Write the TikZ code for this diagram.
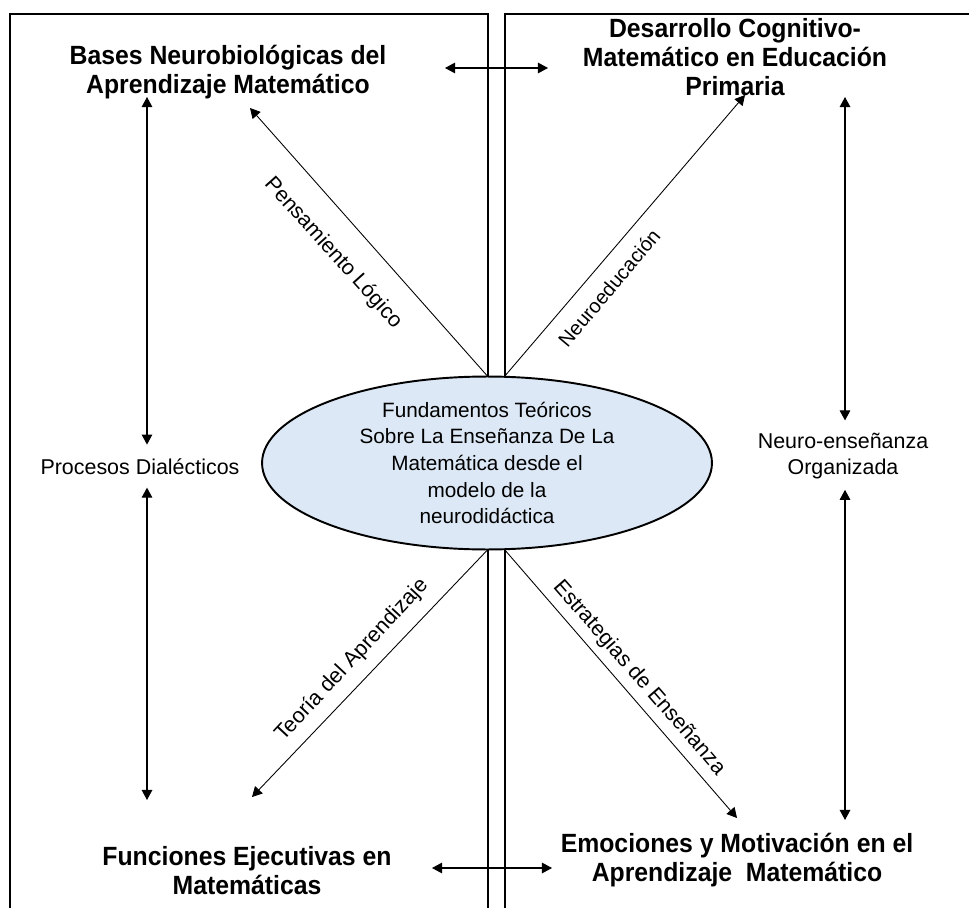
\documentclass[tikz,border=0pt]{standalone}
\usepackage{fontspec}
\setmainfont{Liberation Sans}
\newfontfamily\headfont[FakeStretch=0.94]{Liberation Sans Bold}
\usetikzlibrary{positioning,shapes.geometric,arrows.meta,calc}
\definecolor{ellfill}{RGB}{220,232,245}

\begin{document}
\begin{tikzpicture}[
    x=0.02cm, y=-0.02cm,
    title/.style={font=\headfont\fontsize{15}{16.5}\selectfont, align=center, inner sep=0pt},
    plain/.style={font=\fontsize{12.2}{14.8}\selectfont, align=center, inner sep=0pt},
    frame/.style={line width=1.3pt},
    tip/.style={-{Triangle[length=5.7pt,width=6pt]}},
    arrow/.style={tip, line width=0.5pt},
    twoway/.style={{Triangle[length=5.7pt,width=6pt]}-{Triangle[length=5.7pt,width=6pt]}, line width=0.6pt},
    label/.style={plain, inner sep=0pt}
]
    \useasboundingbox (0,0) rectangle (969,908);

    % the two frames
    \draw[frame] (10,908) -- (10,14) -- (488,14) -- (488,908);
    \draw[frame] (505,908) -- (505,14) -- (969,14);

    \node[ellipse, draw, fill=ellfill, line width=1.1pt, inner sep=0pt,
          minimum width=9cm, minimum height=3.26cm,
          font=\fontsize{11.8}{15.2}\selectfont, align=center] (fund) at (487,463)
        {Fundamentos Teóricos\\Sobre La Enseñanza De La\\Matemática desde el\\modelo de la\\neurodidáctica};

    \node[title] (bases) at (228,72) {Bases Neurobiológicas del\\Aprendizaje Matemático};
    \node[title] (desarrollo) at (735,57) {Desarrollo Cognitivo-\\Matemático en Educación\\Primaria};
    \node[title] (funciones) at (247,871) {Funciones Ejecutivas en\\Matemáticas};
    \node[title] (emociones) at (737,860) {Emociones y Motivación en el\\Aprendizaje~~Matemático};

    \node[plain] (procesos) at (140,467) {Procesos Dialécticos};
    \node[plain] (neuro) at (843,456) {Neuro-enseñanza\\Organizada};

    % free ends
    \coordinate (topL) at (445,68);
    \coordinate (topR) at (548,68);
    \coordinate (botL) at (432,868);
    \coordinate (botR) at (552,868);
    \coordinate (leftUp) at (147,97);
    \coordinate (leftDown) at (147,800);
    \coordinate (rightUp) at (845,97);
    \coordinate (rightDown) at (845,820);
    \coordinate (pensTip) at (250,108);
    \coordinate (neurTip) at (745,95);
    \coordinate (teorTip) at (252,797);
    \coordinate (estrTip) at (737,818);

    \draw[twoway] (topL) -- (topR);
    \draw[twoway] (botL) -- (botR);

    \draw[twoway, shorten >=8pt] (leftUp) -- (procesos.north -| leftUp);
    \draw[twoway, shorten >=7pt] (leftDown) -- (procesos.south -| leftDown);
    \draw[twoway, shorten >=7pt] (rightUp) -- (neuro.north -| rightUp);
    \draw[twoway, shorten >=6pt] (rightDown) -- (neuro.south -| rightDown);

    \draw[arrow] (fund.north) -- (pensTip);
    \draw[arrow] ($(fund.north)+(18,0.3)$) -- (neurTip);
    \draw[arrow] (fund.south) -- (teorTip);
    \draw[arrow] ($(fund.south)+(18,-0.3)$) -- (estrTip);

    \node[label, rotate=-48] (pens) at (333,253) {Pensamiento Lógico};
    \node[label, rotate=50, font=\fontsize{11.4}{14}\selectfont] (neured) at (609,288) {Neuroeducación};
    \node[label, rotate=47] (teor) at (352,660) {Teoría del Aprendizaje};
    \node[label, rotate=-49] (estr) at (639,678) {Estrategias de Enseñanza};
\end{tikzpicture}
\end{document}
